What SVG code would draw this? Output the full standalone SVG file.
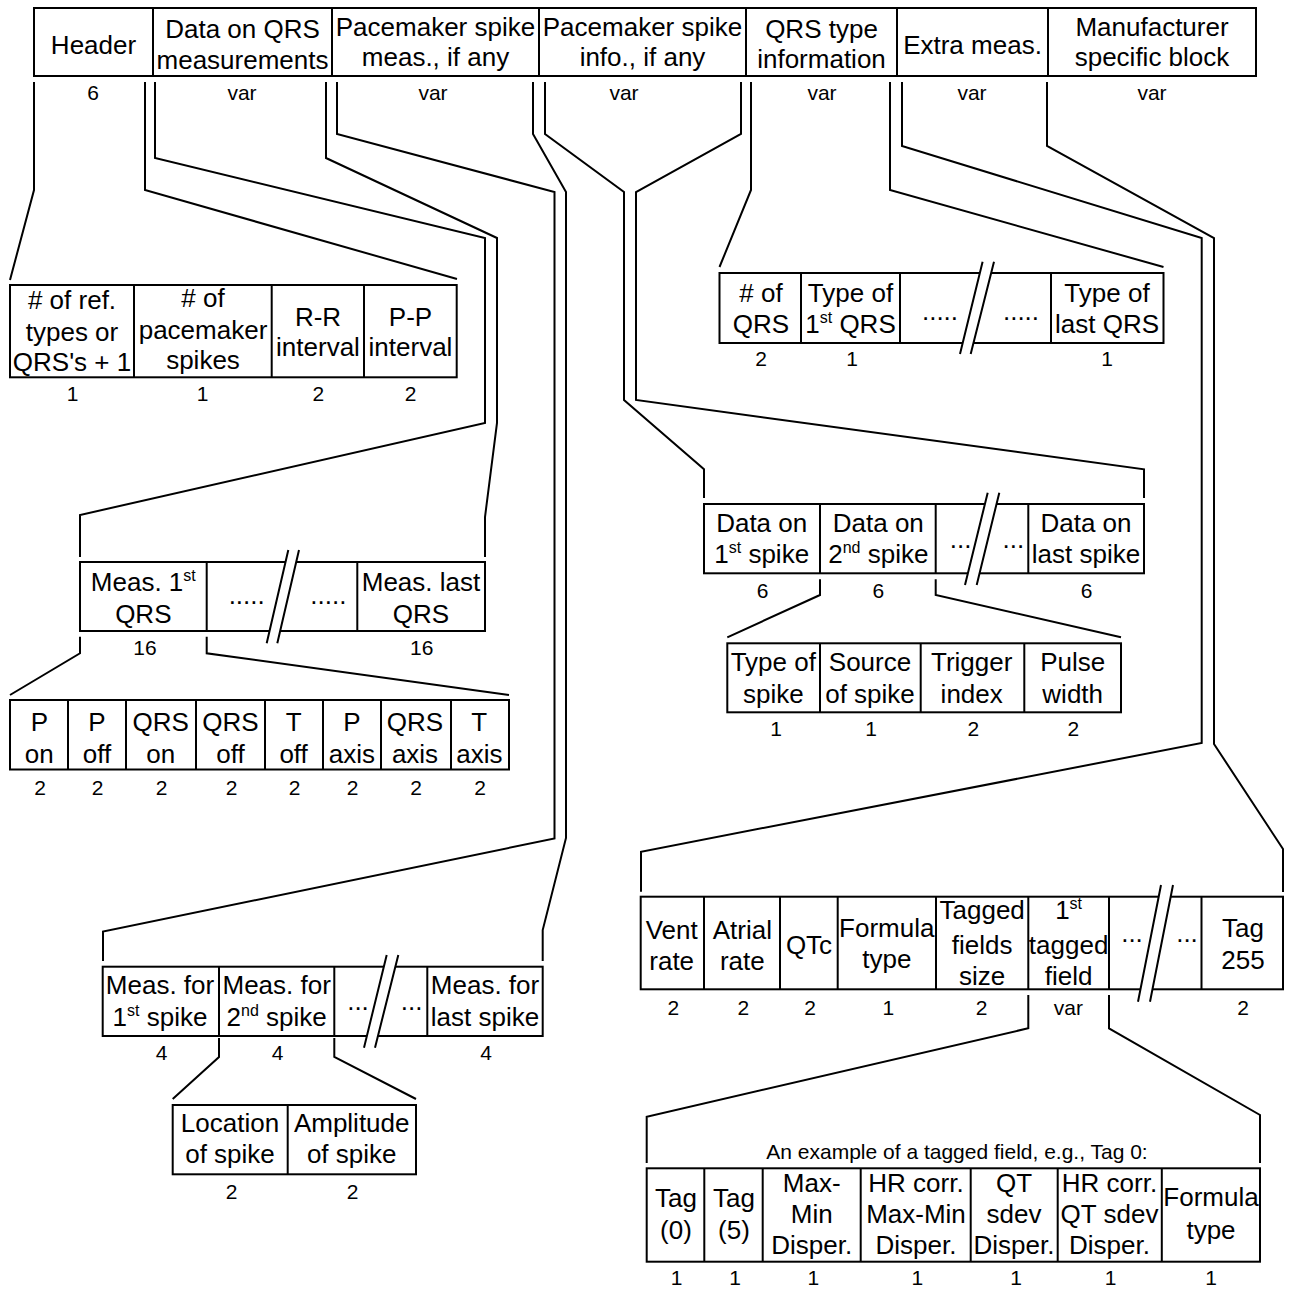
<svg xmlns="http://www.w3.org/2000/svg" width="1289" height="1289" viewBox="0 0 1289 1289">
<style>
.bx{fill:#fff;stroke:#000;stroke-width:2}
.dv{stroke:#000;stroke-width:2}
.c{fill:none;stroke:#000;stroke-width:2;stroke-linejoin:miter}
.cut{fill:#fff;stroke:none}
.sl{stroke:#000;stroke-width:2}
text{font-family:"Liberation Sans",Arial,sans-serif;fill:#000;text-anchor:middle}
.t{font-size:26px}
.s{font-size:21px}
.cap{font-size:21px}
.sup{font-size:16px}
</style>
<rect width="1289" height="1289" fill="#fff"/>

<g id="connectors">
<polyline class="c" points="34,82 34,190 10,280"/>
<polyline class="c" points="145,82 145,190 457,279"/>
<polyline class="c" points="155,82 155,158 485,238 485,423 80,515 80,557"/>
<polyline class="c" points="326,82 326,158 497,238 497,423 485,517 485,557"/>
<polyline class="c" points="337,82 337,134 554.5,192 554.5,838.5 103,931.5 103,961"/>
<polyline class="c" points="533,82 533,134 566,192 566,838 542.7,930 542.7,961"/>
<polyline class="c" points="545,82 545,134 624,192 624,400 704,469.3 704,498"/>
<polyline class="c" points="741,82 741,134 636,192 636,400 1144,469.3 1144,498"/>
<polyline class="c" points="751,82 751,190 719.5,267"/>
<polyline class="c" points="890,82 890,190 1163.5,267"/>
<polyline class="c" points="902,82 902,146 1201.7,238 1201.7,743 641,851.7 641,891.7"/>
<polyline class="c" points="1047,82 1047,146 1214,238 1214,744 1283,849 1283,892"/>
<polyline class="c" points="80,636.7 80,653.3 10,695"/>
<polyline class="c" points="206.7,636.7 206.7,653.3 509,695"/>
<polyline class="c" points="820,579.3 820,595 727.3,637.3"/>
<polyline class="c" points="935.7,579.3 935.7,595 1121,637.3"/>
<polyline class="c" points="219,1038 219,1057 172.7,1099"/>
<polyline class="c" points="334.3,1038 334.3,1057 416,1099"/>
<polyline class="c" points="1028.3,995 1028.3,1028.3 646.7,1116.7 646.7,1163"/>
<polyline class="c" points="1109,995 1109,1028.3 1260,1115 1260,1163"/>
</g>

<g id="top-record">
<rect class="bx" x="34" y="8" width="1222" height="68"/>
<path class="dv" d="M153,8V76M332,8V76M539,8V76M746,8V76M897,8V76M1048,8V76"/>
<text class="t" x="93.5" y="54">Header</text>
<text class="t" x="242.5" y="38">Data on QRS</text>
<text class="t" x="242.5" y="69">measurements</text>
<text class="t" x="435.5" y="35.5">Pacemaker spike</text>
<text class="t" x="435.5" y="66">meas., if any</text>
<text class="t" x="642.5" y="35.5">Pacemaker spike</text>
<text class="t" x="642.5" y="66">info., if any</text>
<text class="t" x="821.5" y="38">QRS type</text>
<text class="t" x="821.5" y="68">information</text>
<text class="t" x="972.5" y="53.5">Extra meas.</text>
<text class="t" x="1152" y="35.5">Manufacturer</text>
<text class="t" x="1152" y="66">specific block</text>
<text class="s" x="93" y="100">6</text>
<text class="s" x="242" y="100">var</text>
<text class="s" x="433" y="100">var</text>
<text class="s" x="624" y="100">var</text>
<text class="s" x="822" y="100">var</text>
<text class="s" x="972" y="100">var</text>
<text class="s" x="1152" y="100">var</text>
</g>

<g id="header-fields">
<rect class="bx" x="10" y="285" width="446.7" height="92.3"/>
<path class="dv" d="M134,285V377.3M271.7,285V377.3M364,285V377.3"/>
<text class="t" x="72" y="309"># of ref.</text>
<text class="t" x="72" y="341">types or</text>
<text class="t" x="72" y="371">QRS's + 1</text>
<text class="t" x="203" y="307"># of</text>
<text class="t" x="203" y="339">pacemaker</text>
<text class="t" x="203" y="369">spikes</text>
<text class="t" x="318" y="326">R-R</text>
<text class="t" x="318" y="356">interval</text>
<text class="t" x="410.5" y="326">P-P</text>
<text class="t" x="410.5" y="356">interval</text>
<text class="s" x="72.7" y="401">1</text>
<text class="s" x="202.7" y="401">1</text>
<text class="s" x="318.3" y="401">2</text>
<text class="s" x="410.7" y="401">2</text>
</g>

<g id="qrs-meas">
<rect class="bx" x="80" y="562" width="405" height="69"/>
<path class="dv" d="M206.7,562V631M357.3,562V631"/>
<polygon class="cut" points="288.3,550 299,550 277.3,643.3 266.7,643.3"/>
<path class="sl" d="M288.3,550L266.7,643.3M299,550L277.3,643.3"/>
<text class="t" x="143.3" y="591">Meas. 1<tspan class="sup" dy="-10">st</tspan></text>
<text class="t" x="143.3" y="622.5">QRS</text>
<text class="t" x="246.7" y="604">.....</text>
<text class="t" x="328.3" y="604">.....</text>
<text class="t" x="421" y="591">Meas. last</text>
<text class="t" x="421" y="622.5">QRS</text>
<text class="s" x="145" y="655">16</text>
<text class="s" x="421.7" y="655">16</text>
</g>

<g id="qrs-meas-fields">
<rect class="bx" x="10" y="700" width="499" height="69.5"/>
<path class="dv" d="M68,700V769.5M126,700V769.5M196,700V769.5M265,700V769.5M323,700V769.5M381,700V769.5M451,700V769.5"/>
<text class="t" x="39.3" y="730.5">P</text><text class="t" x="39.3" y="763">on</text>
<text class="t" x="97" y="730.5">P</text><text class="t" x="97" y="763">off</text>
<text class="t" x="160.7" y="730.5">QRS</text><text class="t" x="160.7" y="763">on</text>
<text class="t" x="230.4" y="730.5">QRS</text><text class="t" x="230.4" y="763">off</text>
<text class="t" x="293.6" y="730.5">T</text><text class="t" x="293.6" y="763">off</text>
<text class="t" x="351.8" y="730.5">P</text><text class="t" x="351.8" y="763">axis</text>
<text class="t" x="415" y="730.5">QRS</text><text class="t" x="415" y="763">axis</text>
<text class="t" x="479.3" y="730.5">T</text><text class="t" x="479.3" y="763">axis</text>
<text class="s" x="40" y="795">2</text>
<text class="s" x="97.5" y="795">2</text>
<text class="s" x="161.5" y="795">2</text>
<text class="s" x="231.5" y="795">2</text>
<text class="s" x="294.5" y="795">2</text>
<text class="s" x="352.5" y="795">2</text>
<text class="s" x="416" y="795">2</text>
<text class="s" x="480" y="795">2</text>
</g>

<g id="qrs-type">
<rect class="bx" x="719.5" y="273" width="444" height="70"/>
<path class="dv" d="M801,273V343M900,273V343M1051,273V343"/>
<polygon class="cut" points="982.6,261.7 994,261.7 970.7,354 960,354"/>
<path class="sl" d="M982.6,261.7L960,354M994,261.7L970.7,354"/>
<text class="t" x="761" y="302"># of</text>
<text class="t" x="761" y="332.5">QRS</text>
<text class="t" x="850.5" y="302">Type of</text>
<text class="t" x="850.5" y="332.5">1<tspan class="sup" dy="-10">st</tspan><tspan dy="10"> QRS</tspan></text>
<text class="t" x="940" y="320">.....</text>
<text class="t" x="1021" y="320">.....</text>
<text class="t" x="1107" y="302">Type of</text>
<text class="t" x="1107" y="332.5">last QRS</text>
<text class="s" x="761" y="366">2</text>
<text class="s" x="852" y="366">1</text>
<text class="s" x="1107" y="366">1</text>
</g>

<g id="spike-info">
<rect class="bx" x="704" y="504" width="440" height="69.3"/>
<path class="dv" d="M820,504V573.3M935.7,504V573.3M1028.3,504V573.3"/>
<polygon class="cut" points="987.7,492.7 999.3,492.7 976.7,585 965,585"/>
<path class="sl" d="M987.7,492.7L965,585M999.3,492.7L976.7,585"/>
<text class="t" x="761.7" y="532">Data on</text>
<text class="t" x="761.7" y="562.5">1<tspan class="sup" dy="-10">st</tspan><tspan dy="10"> spike</tspan></text>
<text class="t" x="878.3" y="532">Data on</text>
<text class="t" x="878.3" y="562.5">2<tspan class="sup" dy="-10">nd</tspan><tspan dy="10"> spike</tspan></text>
<text class="t" x="960.7" y="548">...</text>
<text class="t" x="1013.3" y="548">...</text>
<text class="t" x="1086" y="532">Data on</text>
<text class="t" x="1086" y="562.5">last spike</text>
<text class="s" x="762.7" y="598">6</text>
<text class="s" x="878.3" y="598">6</text>
<text class="s" x="1086.7" y="598">6</text>
</g>

<g id="spike-info-fields">
<rect class="bx" x="727.3" y="643.3" width="393.7" height="69"/>
<path class="dv" d="M820,643.3V712.3M920.7,643.3V712.3M1024.3,643.3V712.3"/>
<text class="t" x="773.3" y="671">Type of</text>
<text class="t" x="773.3" y="702.5">spike</text>
<text class="t" x="870" y="671">Source</text>
<text class="t" x="870" y="702.5">of spike</text>
<text class="t" x="971.7" y="671">Trigger</text>
<text class="t" x="971.7" y="702.5">index</text>
<text class="t" x="1072.7" y="671">Pulse</text>
<text class="t" x="1072.7" y="702.5">width</text>
<text class="s" x="776" y="735.5">1</text>
<text class="s" x="871" y="735.5">1</text>
<text class="s" x="973.3" y="735.5">2</text>
<text class="s" x="1073.3" y="735.5">2</text>
</g>

<g id="spike-meas">
<rect class="bx" x="102.7" y="966.7" width="440" height="69.3"/>
<path class="dv" d="M219,966.7V1036M334.3,966.7V1036M427.3,966.7V1036"/>
<polygon class="cut" points="386.7,955 398.3,955 375,1047.7 364,1047.7"/>
<path class="sl" d="M386.7,955L364,1047.7M398.3,955L375,1047.7"/>
<text class="t" x="160" y="994">Meas. for</text>
<text class="t" x="160" y="1026">1<tspan class="sup" dy="-10">st</tspan><tspan dy="10"> spike</tspan></text>
<text class="t" x="276.7" y="994">Meas. for</text>
<text class="t" x="276.7" y="1026">2<tspan class="sup" dy="-10">nd</tspan><tspan dy="10"> spike</tspan></text>
<text class="t" x="358" y="1010">...</text>
<text class="t" x="411.7" y="1010">...</text>
<text class="t" x="485" y="994">Meas. for</text>
<text class="t" x="485" y="1026">last spike</text>
<text class="s" x="161.7" y="1060">4</text>
<text class="s" x="277.7" y="1060">4</text>
<text class="s" x="486" y="1060">4</text>
</g>

<g id="spike-meas-fields">
<rect class="bx" x="172.7" y="1105" width="243.3" height="69.3"/>
<path class="dv" d="M287.7,1105V1174.3"/>
<text class="t" x="230" y="1132">Location</text>
<text class="t" x="230" y="1163">of spike</text>
<text class="t" x="351.7" y="1132">Amplitude</text>
<text class="t" x="351.7" y="1163">of spike</text>
<text class="s" x="231.7" y="1199">2</text>
<text class="s" x="352.7" y="1199">2</text>
</g>

<g id="extra-meas">
<rect class="bx" x="640.7" y="896.7" width="642.3" height="92.6"/>
<path class="dv" d="M704,896.7V989.3M780,896.7V989.3M837.7,896.7V989.3M936,896.7V989.3M1028.3,896.7V989.3M1109,896.7V989.3M1201.5,896.7V989.3"/>
<polygon class="cut" points="1161,885 1173,885 1150,1001.7 1138,1001.7"/>
<path class="sl" d="M1161,885L1138,1001.7M1173,885L1150,1001.7"/>
<text class="t" x="671.7" y="938.5">Vent</text>
<text class="t" x="671.7" y="970">rate</text>
<text class="t" x="742.3" y="938.5">Atrial</text>
<text class="t" x="742.3" y="970">rate</text>
<text class="t" x="809" y="954">QTc</text>
<text class="t" x="886.8" y="936.5">Formula</text>
<text class="t" x="886.8" y="967.5">type</text>
<text class="t" x="982.2" y="919">Tagged</text>
<text class="t" x="982.2" y="954">fields</text>
<text class="t" x="982.2" y="985">size</text>
<text class="t" x="1068.6" y="919">1<tspan class="sup" dy="-10">st</tspan></text>
<text class="t" x="1068.6" y="954">tagged</text>
<text class="t" x="1068.6" y="985">field</text>
<text class="t" x="1132" y="942">...</text>
<text class="t" x="1187" y="942">...</text>
<text class="t" x="1243" y="937">Tag</text>
<text class="t" x="1243" y="969">255</text>
<text class="s" x="673.3" y="1015">2</text>
<text class="s" x="743.3" y="1015">2</text>
<text class="s" x="810" y="1015">2</text>
<text class="s" x="888.3" y="1015">1</text>
<text class="s" x="981.7" y="1015">2</text>
<text class="s" x="1068.3" y="1015">var</text>
<text class="s" x="1243" y="1015">2</text>
</g>

<g id="tagged-field-example">
<text class="cap" x="957" y="1159">An example of a tagged field, e.g., Tag 0:</text>
<rect class="bx" x="646.7" y="1168.3" width="613.3" height="93.4"/>
<path class="dv" d="M704.3,1168.3V1261.7M762.7,1168.3V1261.7M860.7,1168.3V1261.7M970.7,1168.3V1261.7M1057.7,1168.3V1261.7M1161.8,1168.3V1261.7"/>
<text class="t" x="676" y="1207">Tag</text>
<text class="t" x="676" y="1239">(0)</text>
<text class="t" x="734" y="1207">Tag</text>
<text class="t" x="734" y="1239">(5)</text>
<text class="t" x="811.7" y="1192">Max-</text>
<text class="t" x="811.7" y="1222.5">Min</text>
<text class="t" x="811.7" y="1254">Disper.</text>
<text class="t" x="916" y="1192">HR corr.</text>
<text class="t" x="916" y="1222.5">Max-Min</text>
<text class="t" x="916" y="1254">Disper.</text>
<text class="t" x="1014" y="1192">QT</text>
<text class="t" x="1014" y="1222.5">sdev</text>
<text class="t" x="1014" y="1254">Disper.</text>
<text class="t" x="1109.5" y="1192">HR corr.</text>
<text class="t" x="1109.5" y="1222.5">QT sdev</text>
<text class="t" x="1109.5" y="1254">Disper.</text>
<text class="t" x="1211" y="1206">Formula</text>
<text class="t" x="1211" y="1239">type</text>
<text class="s" x="676.7" y="1285">1</text>
<text class="s" x="735" y="1285">1</text>
<text class="s" x="813.3" y="1285">1</text>
<text class="s" x="917.3" y="1285">1</text>
<text class="s" x="1016" y="1285">1</text>
<text class="s" x="1110.7" y="1285">1</text>
<text class="s" x="1211" y="1285">1</text>
</g>
</svg>
